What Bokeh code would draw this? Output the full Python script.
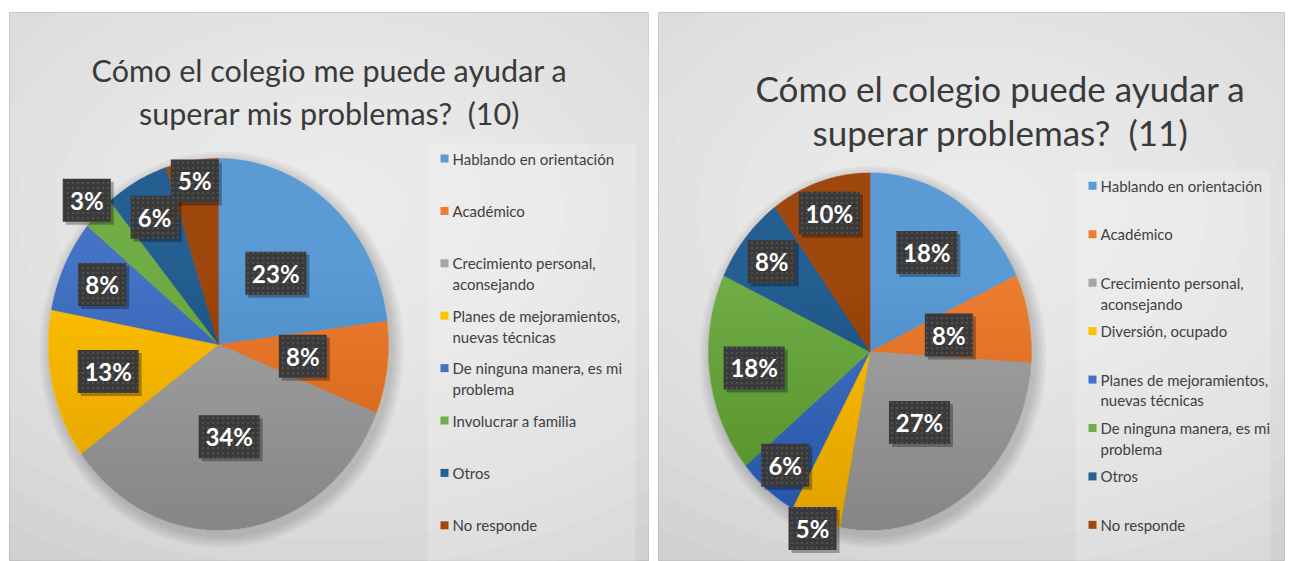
import textwrap
import numpy as np
from bokeh.plotting import figure
from bokeh.layouts import row
from bokeh.models import Range1d
from bokeh.core.properties import value
from bokeh.embed import file_html
from bokeh.resources import INLINE

# ---------------- data ----------------
left_title = ["Cómo el colegio me puede ayudar a", "superar mis problemas?  (10)"]
left_categories = ["Hablando en orientación", "Académico", "Crecimiento personal, aconsejando",
                   "Planes de mejoramientos, nuevas técnicas", "De ninguna manera, es mi problema",
                   "Involucrar a familia", "Otros", "No responde"]
left_values = [23, 8, 34, 13, 8, 3, 6, 5]

right_title = ["Cómo el colegio puede ayudar a", "superar problemas?  (11)"]
right_categories = ["Hablando en orientación", "Académico", "Crecimiento personal, aconsejando",
                    "Diversión, ocupado", "Planes de mejoramientos, nuevas técnicas",
                    "De ninguna manera, es mi problema", "Otros", "No responde"]
right_values = [18, 8, 27, 5, 6, 18, 8, 10]

# ---------------- styles ----------------
left_colors = ["#5B9BD5", "#ED7D31", "#A5A5A5", "#FFC000", "#4472C4", "#70AD47", "#255E91", "#9E480E"]
right_colors = ["#5B9BD5", "#ED7D31", "#A5A5A5", "#FFC000", "#4472C4", "#70AD47", "#255E91", "#9E480E"]
# radial placement of the data labels (fraction of radius), Excel "best fit"
left_label_r = [0.51, 0.50, 0.50, 0.665, 0.757, 1.096, 0.78, 0.89]
right_label_r = [0.657, 0.497, 0.50, 1.05, 0.824, 0.723, 0.79, 0.815]

FONT = "Lato"


def slice_polys(values, cx, cy, rx, ry):
    total = float(sum(values))
    xs, ys, mids = [], [], []
    start = 0.0
    for v in values:
        a0 = 2 * np.pi * start / total
        a1 = 2 * np.pi * (start + v) / total
        t = np.linspace(a0, a1, max(int(v * 4), 8))
        xs.append([cx] + list(cx + rx * np.sin(t)))
        ys.append([cy] + list(cy - ry * np.cos(t)))
        mids.append((a0 + a1) / 2)
        start += v
    return xs, ys, mids


def lower_segment(cx, cy, rx, ry, h):
    # part of the ellipse below the chord at cy + h*ry (y grows downward)
    a = np.arccos(np.clip(h, -1, 1))
    t = np.linspace(np.pi - a, np.pi + a, 80)
    return list(cx + rx * np.sin(t)), list(cy - ry * np.cos(t))


def make_panel(fig_w, fig_h, px0, px1, py0, page_x0, title_lines, title_size, title_cx, title_base,
               cats, vals, colors, label_r, cx, cy, rx, ry, leg_mx, leg_y0, leg_step):
    p = figure(width=fig_w, height=fig_h, output_backend="svg", toolbar_location=None,
               x_axis_location=None, y_axis_location=None,
               x_range=Range1d(px0, px1), y_range=Range1d(561, py0),
               min_border_left=px0 - page_x0, min_border_right=page_x0 + fig_w - px1,
               min_border_top=py0, min_border_bottom=0)
    p.grid.visible = False
    p.background_fill_color = "#CBCBCB"
    p.border_fill_color = "white"
    p.outline_line_color = "#BDBDBD"
    p.outline_line_width = 1

    # soft radial background
    mx = (px0 + px1) / 2
    for i in range(16):
        k = 1 - i / 16.0
        p.ellipse(x=mx, y=210, width=1250 * k, height=880 * k,
                  fill_color="white", fill_alpha=0.075, line_color=None)

    # legend panel (slightly lighter)
    lx0, lx1 = leg_mx - 17, px1 - 14
    p.rect(x=(lx0 + lx1) / 2, y=(leg_y0 - 15 + 561) / 2,
           width=lx1 - lx0, height=561 - (leg_y0 - 15),
           fill_color="white", fill_alpha=0.2, line_color=None)

    # title
    for i, line in enumerate(title_lines):
        p.text(x=[title_cx], y=[title_base[i]], text=[line.replace("  ", " \u00a0")],
               text_font=value(FONT), text_font_size=title_size, text_color="#3A3A3A",
               text_align="center", text_baseline="alphabetic")

    # pie shadow
    for j in range(5):
        d = 4 + 5 * j
        p.ellipse(x=cx + 3, y=cy + 5, width=2 * rx + d, height=2 * ry + d,
                  fill_color="black", fill_alpha=0.035, line_color=None)

    xs, ys, mids = slice_polys(vals, cx, cy, rx, ry)
    p.patches(xs=xs, ys=ys, fill_color=colors, line_color=colors, line_width=0.5)

    # gentle, smooth top-to-bottom shading of the pie
    for h in np.linspace(-0.4, 0.9, 30):
        sx, sy = lower_segment(cx, cy, rx, ry, h)
        p.patch(x=sx, y=sy, fill_color="black", fill_alpha=0.0055, line_color=None)

    # data labels
    lx = [cx + f * rx * np.sin(m) for f, m in zip(label_r, mids)]
    ly = [cy - f * ry * np.cos(m) for f, m in zip(label_r, mids)]
    texts = ["%d%%" % v for v in vals]
    widths = [13 * len(t) + 22 for t in texts]
    p.rect(x=[x + 3 for x in lx], y=[y + 3 for y in ly], width=widths, height=43,
           width_units="screen", height_units="screen", fill_color="black", fill_alpha=0.3,
           line_color=None)
    p.rect(x=lx, y=ly, width=widths, height=43, width_units="screen", height_units="screen",
           fill_color="#393939", line_color=None, hatch_pattern="dot", hatch_color="#707070",
           hatch_scale=5, hatch_alpha=0.4)
    p.text(x=lx, y=ly, text=texts, text_font=value(FONT), text_font_size="24px",
           text_font_style="bold", text_color="white", text_align="center",
           text_baseline="middle")

    # legend
    for i, (c, col) in enumerate(zip(cats, colors)):
        y = leg_y0 + i * leg_step
        p.rect(x=[leg_mx], y=[y], width=8, height=8, width_units="screen", height_units="screen",
               fill_color=col, line_color=None)
        for k, line in enumerate(textwrap.wrap(c, 24)):
            p.text(x=[leg_mx + 8], y=[y + 21 * k], text=[line], text_font=value(FONT),
                   text_font_size="15px", text_color="#404040", text_align="left",
                   text_baseline="middle")
    return p


p1 = make_panel(649, 561, 9, 649, 12, 0, left_title, "30.5px", 329, [69, 112],
                left_categories, left_values, left_colors, left_label_r,
                218, 344, 170, 186, 444, 158, 52.4)
p2 = make_panel(640, 561, 658, 1284, 10, 649, right_title, "35px", 1000, [86, 130],
                right_categories, right_values, right_colors, right_label_r,
                869.5, 350.5, 161.5, 179.5, 1092, 184, 48.6)

layout = row(p1, p2)
open("out.html", "w").write(file_html(layout, INLINE))
